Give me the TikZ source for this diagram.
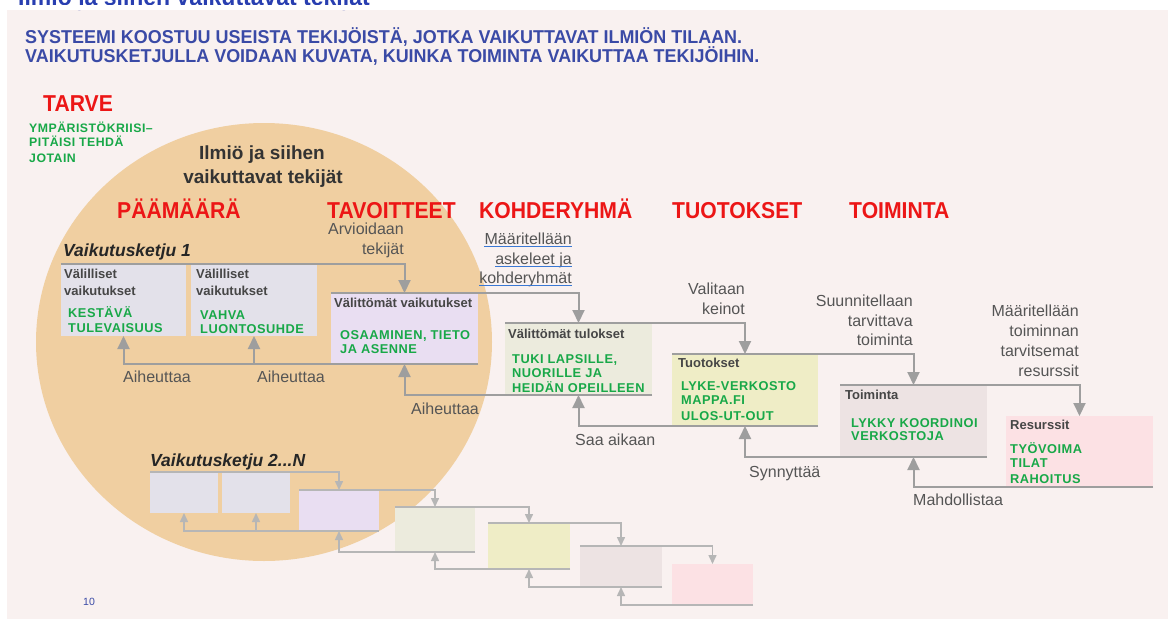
\documentclass[tikz,border=0pt]{standalone}
\usepackage{fontspec}
\setmainfont{Liberation Sans}
\newfontfamily\nb[FakeStretch=0.92]{Liberation Sans}
\newfontfamily\nh[FakeStretch=0.965]{Liberation Sans}
\newfontfamily\gf[LetterSpace=4]{Liberation Sans}
\usetikzlibrary{arrows.meta}
\definecolor{panel}{RGB}{249,241,240}
\definecolor{tanc}{RGB}{240,207,161}
\definecolor{hblue}{RGB}{58,74,166}
\definecolor{tblue}{RGB}{40,62,176}
\definecolor{redl}{RGB}{236,22,22}
\definecolor{grn}{RGB}{24,168,72}
\definecolor{hdr}{RGB}{70,70,70}
\definecolor{lab}{RGB}{85,85,85}
\definecolor{ln}{RGB}{158,158,158}
\definecolor{lnb}{RGB}{182,182,182}
\definecolor{ulblue}{RGB}{58,120,212}
\definecolor{bxa}{RGB}{227,225,234}
\definecolor{bxb}{RGB}{233,222,242}
\definecolor{bxc}{RGB}{236,235,221}
\definecolor{bxd}{RGB}{239,237,198}
\definecolor{bxe}{RGB}{237,227,227}
\definecolor{bxf}{RGB}{252,225,228}
\tikzset{
  boxn/.style={rectangle, inner sep=0pt, outer sep=0pt, anchor=north west, draw=none},
  lbl/.style={font=\fontsize{16}{16}\selectfont, text=lab, inner sep=0pt},
  hdrt/.style={font=\bfseries\fontsize{13}{13}\selectfont, text=hdr, inner sep=0pt, anchor=base west},
  grt/.style={font=\gf\bfseries\fontsize{12.8}{12.8}\selectfont, text=grn, inner sep=0pt, anchor=base west},
  redt/.style={font=\nb\bfseries\fontsize{23}{23}\selectfont, text=redl, inner sep=0pt, anchor=base west},
  chaint/.style={font=\bfseries\itshape\fontsize{17.5}{17.5}\selectfont, text=black!85, inner sep=0pt, anchor=base west},
  conn/.style={draw=ln, line width=2pt, -{Triangle[width=12pt,length=13pt]}},
  connb/.style={draw=lnb, line width=1.5pt, -{Triangle[width=8pt,length=9pt]}},
  ul/.style={draw=ulblue, line width=1.6pt},
}
\begin{document}
\begin{tikzpicture}[x=1pt,y=-1pt]
\useasboundingbox (0,0) rectangle (1168,619);
\fill[white] (0,0) rectangle (1168,619);
\fill[panel] (7,9.5) rectangle (1168,619);
% cut-off title
\node[font=\nb\bfseries\fontsize{25}{25}\selectfont, text=tblue, inner sep=0pt, anchor=base west] (title) at (18,5) {Ilmiö ja siihen vaikuttavat tekijät};
\fill[white] (0,5) rectangle (1168,9.5);
% header
\node[font=\nh\bfseries\fontsize{18.6}{18.6}\selectfont, text=hblue, inner sep=0pt, anchor=base west] (h1) at (25,43) {SYSTEEMI KOOSTUU USEISTA TEKIJÖISTÄ, JOTKA VAIKUTTAVAT ILMIÖN TILAAN.};
\node[font=\nh\bfseries\fontsize{18.6}{18.6}\selectfont, text=hblue, inner sep=0pt, anchor=base west] (h2) at (25,62) {VAIKUTUSKETJULLA VOIDAAN KUVATA, KUINKA TOIMINTA VAIKUTTAA TEKIJÖIHIN.};
% circle
\fill[tanc] (264,342) ellipse [x radius=228pt, y radius=219pt];
\node[font=\bfseries\fontsize{19}{19}\selectfont, text=black!80, inner sep=0pt, anchor=base] (ilm1) at (262,159.5) {Ilmiö ja siihen};
\node[font=\bfseries\fontsize{19}{19}\selectfont, text=black!80, inner sep=0pt, anchor=base] (ilm2) at (263,183.5) {vaikuttavat tekijät};
% TARVE
\node[redt] (tarve) at (43,111) {TARVE};
\node[grt, font=\gf\bfseries\fontsize{12.3}{12.3}\selectfont] (t1) at (29,132) {YMPÄRISTÖKRIISI–};
\node[grt, font=\gf\bfseries\fontsize{12.3}{12.3}\selectfont] (t2) at (29,146.5) {PITÄISI TEHDÄ};
\node[grt, font=\gf\bfseries\fontsize{12.3}{12.3}\selectfont] (t3) at (29,162) {JOTAIN};
% red headings
\node[redt] (r1) at (117,218) {PÄÄMÄÄRÄ};
\node[redt] (r2) at (327,218) {TAVOITTEET};
\node[redt] (r3) at (479,218) {KOHDERYHMÄ};
\node[redt] (r4) at (672,218) {TUOTOKSET};
\node[redt] (r5) at (849,218) {TOIMINTA};
% chain 1
\node[chaint] (k1) at (63,256) {Vaikutusketju 1};
\node[boxn, fill=bxa, minimum width=125pt, minimum height=72pt] (b1) at (61,264) {};
\node[boxn, fill=bxa, minimum width=126pt, minimum height=72pt] (b2) at (191,264) {};
\node[boxn, fill=bxb, minimum width=147pt, minimum height=71pt] (b3) at (331,293) {};
\node[boxn, fill=bxc, minimum width=147pt, minimum height=72pt] (b4) at (505,323) {};
\node[boxn, fill=bxd, minimum width=146pt, minimum height=72pt] (b5) at (672,354) {};
\node[boxn, fill=bxe, minimum width=147pt, minimum height=72pt] (b6) at (840,385) {};
\node[boxn, fill=bxf, minimum width=147pt, minimum height=71pt] (b7) at (1006,416) {};
% connectors chain 1
\draw[conn] (b1.north west) -| (b3.north);
\draw[conn] (b3.north west) -| (b4.north);
\draw[conn] (b4.north west) -| (b5.north);
\draw[conn] (b5.north west) -| (b6.north);
\draw[conn] (b6.north west) -| (b7.north);
\draw[conn] (b3.south east) -| (b1.south);
\draw[conn] (b3.south -| b2.south) -- (b2.south);
\draw[conn] (b4.south east) -| (b3.south);
\draw[conn] (b5.south east) -| (b4.south);
\draw[conn] (b6.south east) -| (b5.south);
\draw[conn] (b7.south east) -| (b6.south);
% box texts
\node[hdrt] (b1h1) at (64,278) {Välilliset};
\node[hdrt] (b1h2) at (64,295) {vaikutukset};
\node[grt] (b1g1) at (68,317) {KESTÄVÄ};
\node[grt] (b1g2) at (68,332) {TULEVAISUUS};
\node[hdrt] (b2h1) at (196,278) {Välilliset};
\node[hdrt] (b2h2) at (196,295) {vaikutukset};
\node[grt] (b2g1) at (200,319) {VAHVA};
\node[grt] (b2g2) at (200,333.5) {LUONTOSUHDE};
\node[hdrt] (b3h) at (334,307) {Välittömät vaikutukset};
\node[grt] (b3g1) at (340,339) {OSAAMINEN, TIETO};
\node[grt] (b3g2) at (340,353) {JA ASENNE};
\node[hdrt] (b4h) at (508,338) {Välittömät tulokset};
\node[grt] (b4g1) at (512,363) {TUKI LAPSILLE,};
\node[grt] (b4g2) at (512,377.5) {NUORILLE JA};
\node[grt] (b4g3) at (512,392) {HEIDÄN OPEILLEEN};
\node[hdrt] (b5h) at (678,367) {Tuotokset};
\node[grt] (b5g1) at (681,390) {LYKE-VERKOSTO};
\node[grt] (b5g2) at (681,404) {MAPPA.FI};
\node[grt] (b5g3) at (681,420) {ULOS-UT-OUT};
\node[hdrt] (b6h) at (845,399) {Toiminta};
\node[grt] (b6g1) at (851,427) {LYKKY KOORDINOI};
\node[grt] (b6g2) at (851,440) {VERKOSTOJA};
\node[hdrt] (b7h) at (1010,429) {Resurssit};
\node[grt] (b7g1) at (1010,453) {TYÖVOIMA};
\node[grt] (b7g2) at (1010,467) {TILAT};
\node[grt] (b7g3) at (1010,483) {RAHOITUS};
% gray labels
\node[lbl, anchor=base east] (a1) at (404,234) {Arvioidaan};
\node[lbl, anchor=base east] (a2) at (404,254) {tekijät};
\node[lbl, anchor=base east] (m1) at (572,244) {Määritellään};
\node[lbl, anchor=base east] (m2) at (572,264) {askeleet ja};
\node[lbl, anchor=base east] (m3) at (572,283) {kohderyhmät};
\draw[ul] ([yshift=-2.5pt]m1.base west) -- ([yshift=-2.5pt]m1.base east);
\draw[ul] ([yshift=-2.5pt]m2.base west) -- ([yshift=-2.5pt]m2.base east);
\draw[ul] ([yshift=-2.5pt]m3.base west) -- ([yshift=-2.5pt]m3.base east);
\node[lbl, anchor=base east] (v1) at (745,294) {Valitaan};
\node[lbl, anchor=base east] (v2) at (745,314) {keinot};
\node[lbl, anchor=base east] (s1) at (913,306) {Suunnitellaan};
\node[lbl, anchor=base east] (s2) at (913,326) {tarvittava};
\node[lbl, anchor=base east] (s3) at (913,345) {toiminta};
\node[lbl, anchor=base east] (d1) at (1079,316) {Määritellään};
\node[lbl, anchor=base east] (d2) at (1079,336) {toiminnan};
\node[lbl, anchor=base east] (d3) at (1079,356) {tarvitsemat};
\node[lbl, anchor=base east] (d4) at (1079,376) {resurssit};
\node[lbl, anchor=base west] (ai1) at (123,382) {Aiheuttaa};
\node[lbl, anchor=base west] (ai2) at (257,382) {Aiheuttaa};
\node[lbl, anchor=base west] (ai3) at (411,414) {Aiheuttaa};
\node[lbl, anchor=base west] (sa) at (575,445) {Saa aikaan};
\node[lbl, anchor=base west] (sy) at (749,477) {Synnyttää};
\node[lbl, anchor=base west] (ma) at (913,505) {Mahdollistaa};
% chain 2..N
\node[chaint] (k2) at (150,466) {Vaikutusketju 2...N};
\node[boxn, fill=bxa, minimum width=68pt, minimum height=41pt] (ca) at (150,472) {};
\node[boxn, fill=bxa, minimum width=68pt, minimum height=41pt] (cb) at (222,472) {};
\node[boxn, fill=bxb, minimum width=80pt, minimum height=41pt] (cc) at (299,490) {};
\node[boxn, fill=bxc, minimum width=80pt, minimum height=45pt] (cd) at (395,507) {};
\node[boxn, fill=bxd, minimum width=82pt, minimum height=46pt] (ce) at (488,523) {};
\node[boxn, fill=bxe, minimum width=82pt, minimum height=41pt] (cf) at (580,546) {};
\node[boxn, fill=bxf, minimum width=81pt, minimum height=41pt] (cg) at (672,564) {};
\draw[connb] (ca.north west) -| (cc.north);
\draw[connb] (cc.north west) -| (cd.north);
\draw[connb] (cd.north west) -| (ce.north);
\draw[connb] (ce.north west) -| (cf.north);
\draw[connb] (cf.north west) -| (cg.north);
\draw[connb] (cc.south east) -| (ca.south);
\draw[connb] (cc.south -| cb.south) -- (cb.south);
\draw[connb] (cd.south east) -| (cc.south);
\draw[connb] (ce.south east) -| (cd.south);
\draw[connb] (cf.south east) -| (ce.south);
\draw[connb] (cg.south east) -| (cf.south);
% page number
\node[font=\fontsize{10.5}{10.5}\selectfont, text=hblue, inner sep=0pt, anchor=base west] (pg) at (83,605) {10};
\end{tikzpicture}
\end{document}
